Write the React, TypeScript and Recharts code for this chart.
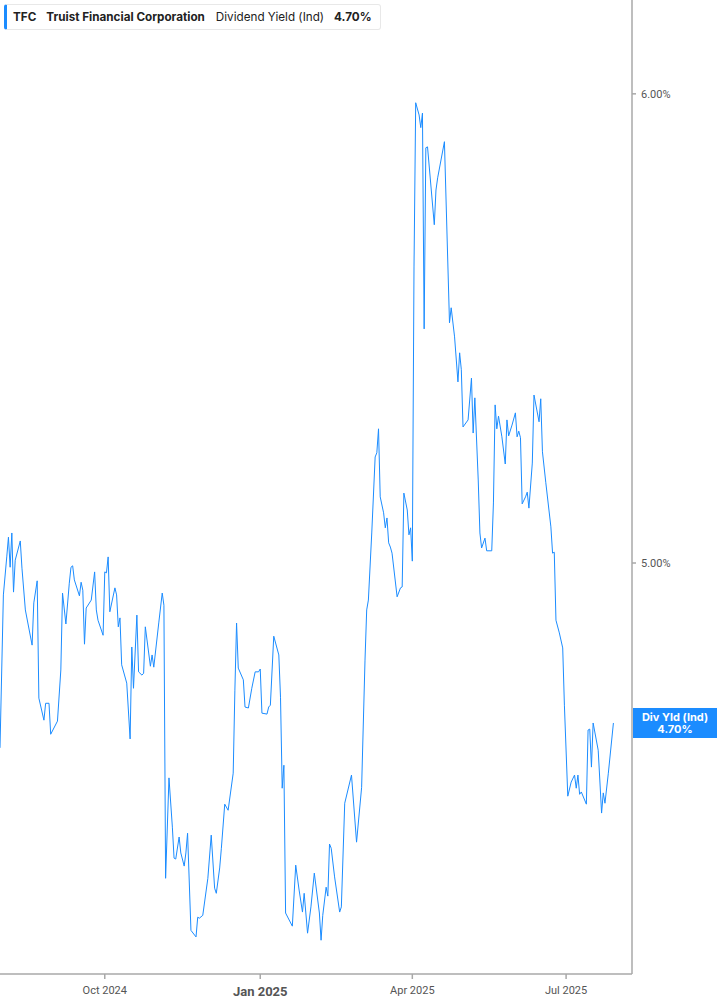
import { LineChart, Line, XAxis, YAxis, ReferenceLine } from 'recharts'

// Truist Financial (TFC) indicated dividend yield, %
const dates = [
  '2024-07-31', '2024-08-02', '2024-08-04', '2024-08-05', '2024-08-06', '2024-08-07', '2024-08-08', '2024-08-09',
  '2024-08-12', '2024-08-13', '2024-08-15', '2024-08-19', '2024-08-20', '2024-08-22', '2024-08-23', '2024-08-26',
  '2024-08-27', '2024-08-29', '2024-08-30', '2024-09-03', '2024-09-05', '2024-09-06', '2024-09-08', '2024-09-10',
  '2024-09-11', '2024-09-12', '2024-09-13', '2024-09-16', '2024-09-17', '2024-09-18', '2024-09-19', '2024-09-20',
  '2024-09-23', '2024-09-25', '2024-09-26', '2024-09-27', '2024-09-30', '2024-10-01', '2024-10-02', '2024-10-03',
  '2024-10-04', '2024-10-07', '2024-10-08', '2024-10-09', '2024-10-10', '2024-10-11', '2024-10-14', '2024-10-16',
  '2024-10-17', '2024-10-18', '2024-10-20', '2024-10-21', '2024-10-23', '2024-10-24', '2024-10-25', '2024-10-28',
  '2024-10-29', '2024-10-30', '2024-11-02', '2024-11-04', '2024-11-05', '2024-11-06', '2024-11-08', '2024-11-10',
  '2024-11-11', '2024-11-12', '2024-11-14', '2024-11-15', '2024-11-17', '2024-11-18', '2024-11-19', '2024-11-21',
  '2024-11-24', '2024-11-25', '2024-11-26', '2024-11-28', '2024-12-01', '2024-12-03', '2024-12-05', '2024-12-06',
  '2024-12-08', '2024-12-09', '2024-12-11', '2024-12-13', '2024-12-16', '2024-12-17', '2024-12-18', '2024-12-19',
  '2024-12-22', '2024-12-23', '2024-12-25', '2024-12-27', '2024-12-29', '2024-12-31', '2025-01-01', '2025-01-02',
  '2025-01-05', '2025-01-06', '2025-01-07', '2025-01-09', '2025-01-12', '2025-01-13', '2025-01-14', '2025-01-15',
  '2025-01-16', '2025-01-20', '2025-01-22', '2025-01-24', '2025-01-26', '2025-01-27', '2025-01-29', '2025-01-31',
  '2025-02-02', '2025-02-05', '2025-02-06', '2025-02-07', '2025-02-09', '2025-02-10', '2025-02-11', '2025-02-12',
  '2025-02-14', '2025-02-17', '2025-02-18', '2025-02-20', '2025-02-24', '2025-02-27', '2025-03-02', '2025-03-04',
  '2025-03-05', '2025-03-06', '2025-03-08', '2025-03-10', '2025-03-11', '2025-03-12', '2025-03-13', '2025-03-15',
  '2025-03-16', '2025-03-17', '2025-03-18', '2025-03-19', '2025-03-20', '2025-03-23', '2025-03-25', '2025-03-26',
  '2025-03-27', '2025-03-29', '2025-03-30', '2025-03-31', '2025-04-01', '2025-04-02', '2025-04-03', '2025-04-05',
  '2025-04-06', '2025-04-07', '2025-04-08', '2025-04-09', '2025-04-10', '2025-04-14', '2025-04-15', '2025-04-16',
  '2025-04-20', '2025-04-23', '2025-04-24', '2025-04-26', '2025-04-28', '2025-04-29', '2025-04-30', '2025-05-01',
  '2025-05-04', '2025-05-06', '2025-05-07', '2025-05-08', '2025-05-10', '2025-05-11', '2025-05-12', '2025-05-14',
  '2025-05-15', '2025-05-18', '2025-05-19', '2025-05-20', '2025-05-21', '2025-05-22', '2025-05-24', '2025-05-26',
  '2025-05-27', '2025-05-28', '2025-05-30', '2025-06-01', '2025-06-02', '2025-06-03', '2025-06-04', '2025-06-05',
  '2025-06-07', '2025-06-08', '2025-06-09', '2025-06-11', '2025-06-12', '2025-06-15', '2025-06-16', '2025-06-17',
  '2025-06-19', '2025-06-22', '2025-06-23', '2025-06-24', '2025-06-25', '2025-06-27', '2025-06-29', '2025-06-30',
  '2025-07-02', '2025-07-04', '2025-07-06', '2025-07-07', '2025-07-08', '2025-07-09', '2025-07-10', '2025-07-13',
  '2025-07-14', '2025-07-15', '2025-07-16', '2025-07-17', '2025-07-20', '2025-07-22', '2025-07-23', '2025-07-24',
  '2025-07-26', '2025-07-29',
]

const divYield = [
  4.606, 4.932, 5.013, 5.055, 4.991, 5.064, 4.938, 5.006,
  5.047, 4.989, 4.900, 4.825, 4.915, 4.962, 4.712, 4.665,
  4.701, 4.701, 4.635, 4.663, 4.772, 4.936, 4.870, 4.957,
  4.991, 4.994, 4.964, 4.930, 4.959, 4.942, 4.827, 4.904,
  4.921, 4.981, 4.900, 4.878, 4.846, 4.981, 4.979, 5.013,
  4.896, 4.947, 4.932, 4.864, 4.883, 4.783, 4.744, 4.625,
  4.821, 4.733, 4.889, 4.768, 4.761, 4.765, 4.864, 4.780,
  4.804, 4.778, 4.874, 4.936, 4.910, 4.328, 4.542, 4.437,
  4.371, 4.369, 4.416, 4.382, 4.354, 4.382, 4.424, 4.217,
  4.203, 4.245, 4.243, 4.249, 4.328, 4.420, 4.307, 4.296,
  4.350, 4.392, 4.486, 4.473, 4.552, 4.729, 4.872, 4.776,
  4.751, 4.693, 4.691, 4.733, 4.768, 4.768, 4.774, 4.680,
  4.678, 4.693, 4.697, 4.844, 4.804, 4.714, 4.520, 4.569,
  4.254, 4.226, 4.356, 4.303, 4.256, 4.296, 4.211, 4.267,
  4.339, 4.254, 4.196, 4.249, 4.309, 4.290, 4.401, 4.392,
  4.331, 4.256, 4.267, 4.488, 4.548, 4.405, 4.522, 4.793,
  4.900, 4.921, 5.064, 5.226, 5.235, 5.286, 5.141, 5.107,
  5.075, 5.096, 5.043, 5.034, 5.021, 4.928, 4.947, 4.949,
  5.149, 5.113, 5.060, 5.075, 5.004, 5.631, 5.981, 5.955,
  5.928, 5.959, 5.499, 5.885, 5.887, 5.721, 5.795, 5.821,
  5.898, 5.512, 5.544, 5.482, 5.386, 5.448, 5.412, 5.290,
  5.305, 5.394, 5.277, 5.352, 5.177, 5.064, 5.032, 5.053,
  5.026, 5.026, 5.128, 5.337, 5.286, 5.313, 5.269, 5.211,
  5.305, 5.271, 5.294, 5.320, 5.269, 5.281, 5.267, 5.126,
  5.141, 5.151, 5.117, 5.213, 5.358, 5.301, 5.350, 5.237,
  5.171, 5.077, 5.021, 5.023, 4.878, 4.851, 4.819, 4.697,
  4.503, 4.533, 4.548, 4.520, 4.548, 4.507, 4.512, 4.486,
  4.644, 4.646, 4.565, 4.659, 4.601, 4.467, 4.510, 4.488,
  4.552, 4.659,
]

const tickDates = ['2024-10-01', '2025-01-01', '2025-04-01', '2025-07-01']
const tickLabels = ['Oct 2024', 'Jan 2025', 'Apr 2025', 'Jul 2025']
const yTicks = [5, 6]
const xRange = ['2024-07-31', '2025-08-09']
const yRange = [4.124, 6.2]

const ticker = 'TFC'
const company = 'Truist Financial Corporation'
const metric = 'Dividend Yield (Ind)'
const lastText = '4.70%'
const badgeTitle = 'Div Yld (Ind)'

const BLUE = '#1b8cff'
const AXIS = '#a8a8a8'
const TEXT = '#555'

const data = dates.map((d, i) => ({ t: Date.parse(d), v: divYield[i] }))
const lastValue = divYield[divYield.length - 1]

function XTick({ x, y, payload }: any) {
  const i = tickDates.findIndex((d) => Date.parse(d) === payload.value)
  const isYear = tickLabels[i]?.startsWith('Jan')
  return (
    <text
      x={x}
      y={y + (isYear ? 15 : 13)}
      textAnchor="middle"
      fill={TEXT}
      fontSize={isYear ? 13 : 11}
      fontWeight={isYear ? 700 : 400}
      fontFamily="Roboto, sans-serif"
    >
      {tickLabels[i]}
    </text>
  )
}

function YTick({ x, y, payload }: any) {
  return (
    <text x={x} y={y + 4} textAnchor="start" fill={TEXT} fontSize={11} fontFamily="Roboto, sans-serif">
      {`${payload.value.toFixed(2)}%`}
    </text>
  )
}

function Badge({ viewBox }: any) {
  const left = viewBox.x + viewBox.width + 1
  const cy = viewBox.y
  return (
    <g>
      <rect x={left} y={cy - 15} width={717 - left} height={30} fill={BLUE} />
      <text x={left + 42} y={cy - 2} textAnchor="middle" fill="#fff" fontSize={11} fontWeight={700} fontFamily="Inter, sans-serif">
        {badgeTitle}
      </text>
      <text x={left + 42} y={cy + 10} textAnchor="middle" fill="#fff" fontSize={11} fontWeight={700} fontFamily="Inter, sans-serif">
        {lastText}
      </text>
    </g>
  )
}

export default function App() {
  return (
    <div style={{ position: 'absolute', left: 0, top: 0, width: 717, height: 1005, background: '#fff' }}>
      <LineChart width={717} height={1005} data={data} margin={{ top: 0, right: 0, bottom: 0, left: 0 }}>
        <XAxis
          dataKey="t"
          type="number"
          scale="time"
          domain={xRange.map((d) => Date.parse(d))}
          ticks={tickDates.map((d) => Date.parse(d))}
          tick={<XTick />}
          height={31}
          stroke={AXIS}
          strokeWidth={1.5}
          tickSize={5}
        />
        <YAxis
          orientation="right"
          domain={yRange}
          ticks={yTicks}
          tick={<YTick />}
          width={85}
          stroke={AXIS}
          strokeWidth={1.5}
          tickSize={4}
          tickMargin={5}
          allowDataOverflow
        />
        <ReferenceLine y={lastValue} stroke="none" label={<Badge />} />
        <Line
          type="linear"
          dataKey="v"
          stroke={BLUE}
          strokeWidth={1}
          dot={false}
          activeDot={false}
          isAnimationActive={false}
        />
      </LineChart>
      <div
        style={{
          position: 'absolute',
          left: 4,
          top: 4,
          width: 373,
          height: 24,
          background: '#fff',
          border: '1px solid #e8e8e8',
          borderLeft: `3px solid ${BLUE}`,
          borderRadius: 3,
          display: 'flex',
          alignItems: 'center',
          fontFamily: 'Inter, sans-serif',
          fontSize: 11.7,
          color: '#222',
          whiteSpace: 'nowrap',
        }}
      >
        <span style={{ marginLeft: 6, fontWeight: 700 }}>{ticker}</span>
        <span style={{ marginLeft: 10, fontWeight: 700 }}>{company}</span>
        <span style={{ marginLeft: 11 }}>{metric}</span>
        <span style={{ marginLeft: 10, fontWeight: 700 }}>{lastText}</span>
      </div>
    </div>
  )
}
